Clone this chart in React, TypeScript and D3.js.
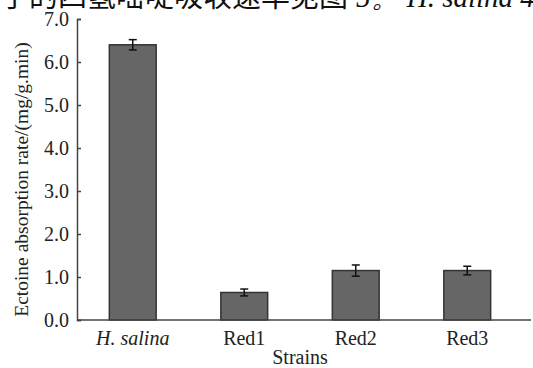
import * as d3 from 'd3';
import { useEffect, useRef } from 'react';

const strains = ['H. salina', 'Red1', 'Red2', 'Red3'];
const rates = [6.4, 0.64, 1.15, 1.15];
const errors = [0.12, 0.08, 0.13, 0.1];
const yTicks = [0, 1, 2, 3, 4, 5, 6, 7];
const caption = '子的四氢嘧啶吸收速率见图';
const captionTail = '5。 H. salina 4';

const width = 533;
const height = 368;
const marginLeft = 77;
const marginTop = 19;
const marginBottom = 48;

const App = () => {
  const ref = useRef<SVGSVGElement>(null);

  useEffect(() => {
    document.body.style.margin = '0';
    const svg = d3.select(ref.current);
    svg.selectAll('*').remove();

    const font = '"Liberation Serif", "Times New Roman", serif';

    const xScale = d3.scaleBand(strains, [marginLeft, 523]).paddingInner(0.58).paddingOuter(0.29);
    const yScale = d3.scaleLinear([0, 7], [height - marginBottom, marginTop]);

    // cut-off caption line at the top
    const cap = svg.append('text').attr('x', 0).attr('y', 7).attr('font-size', 29).attr('fill', '#111');
    cap.append('tspan').attr('font-family', '"Noto Sans CJK SC", sans-serif').text(caption);
    cap.append('tspan').attr('font-family', font).attr('font-style', 'italic').attr('dx', 8).text(captionTail);

    // bars
    svg
      .append('g')
      .selectAll('rect')
      .data(rates)
      .enter()
      .append('rect')
      .attr('x', (_, i) => xScale(strains[i]) ?? 0)
      .attr('y', (d) => yScale(d))
      .attr('width', xScale.bandwidth())
      .attr('height', (d) => yScale(0) - yScale(d))
      .attr('fill', '#666666')
      .attr('stroke', '#333333')
      .attr('stroke-width', 1.5);

    // error bars
    const err = svg.append('g').attr('stroke', '#111').attr('stroke-width', 1.5);
    rates.forEach((v, i) => {
      const cx = (xScale(strains[i]) ?? 0) + xScale.bandwidth() / 2;
      const top = yScale(v + errors[i]);
      const bot = yScale(v - errors[i]);
      err.append('line').attr('x1', cx).attr('x2', cx).attr('y1', top).attr('y2', bot);
      err.append('line').attr('x1', cx - 4).attr('x2', cx + 4).attr('y1', top).attr('y2', top);
      err.append('line').attr('x1', cx - 4).attr('x2', cx + 4).attr('y1', bot).attr('y2', bot);
    });

    // y axis, ticks inside
    const yAxis = d3
      .axisLeft(yScale)
      .tickValues(yTicks)
      .tickFormat((d) => d3.format('.1f')(d as number))
      .tickSizeInner(-4)
      .tickSizeOuter(-4)
      .tickPadding(8);
    const ya = svg.append('g').attr('transform', `translate(${marginLeft},0)`).call(yAxis);
    ya.selectAll('path, line').attr('stroke', '#444').attr('stroke-width', 1.5);
    ya.selectAll('text').attr('font-family', font).attr('font-size', 20).attr('fill', '#222');

    // x axis line
    svg
      .append('line')
      .attr('x1', marginLeft)
      .attr('x2', 531)
      .attr('y1', yScale(0))
      .attr('y2', yScale(0))
      .attr('stroke', '#444')
      .attr('stroke-width', 1.5);

    // x labels
    svg
      .append('g')
      .selectAll('text')
      .data(strains)
      .enter()
      .append('text')
      .attr('x', (d) => (xScale(d) ?? 0) + xScale.bandwidth() / 2)
      .attr('y', 345)
      .attr('text-anchor', 'middle')
      .attr('font-family', font)
      .attr('font-size', 20)
      .attr('font-style', (d) => (d === 'H. salina' ? 'italic' : 'normal'))
      .attr('fill', '#222')
      .text((d) => d);

    svg
      .append('text')
      .attr('x', 300)
      .attr('y', 364)
      .attr('text-anchor', 'middle')
      .attr('font-family', font)
      .attr('font-size', 20)
      .attr('fill', '#222')
      .text('Strains');

    svg
      .append('text')
      .attr('transform', `translate(28,${(yScale(0) + yScale(7)) / 2 + 10}) rotate(-90)`)
      .attr('text-anchor', 'middle')
      .attr('font-family', font)
      .attr('font-size', 19.5)
      .attr('fill', '#222')
      .text('Ectoine absorption rate/(mg/g.min)');
  }, []);

  return <svg ref={ref} width={width} height={height} style={{ display: 'block', background: '#fff' }} />;
};

export default App;
